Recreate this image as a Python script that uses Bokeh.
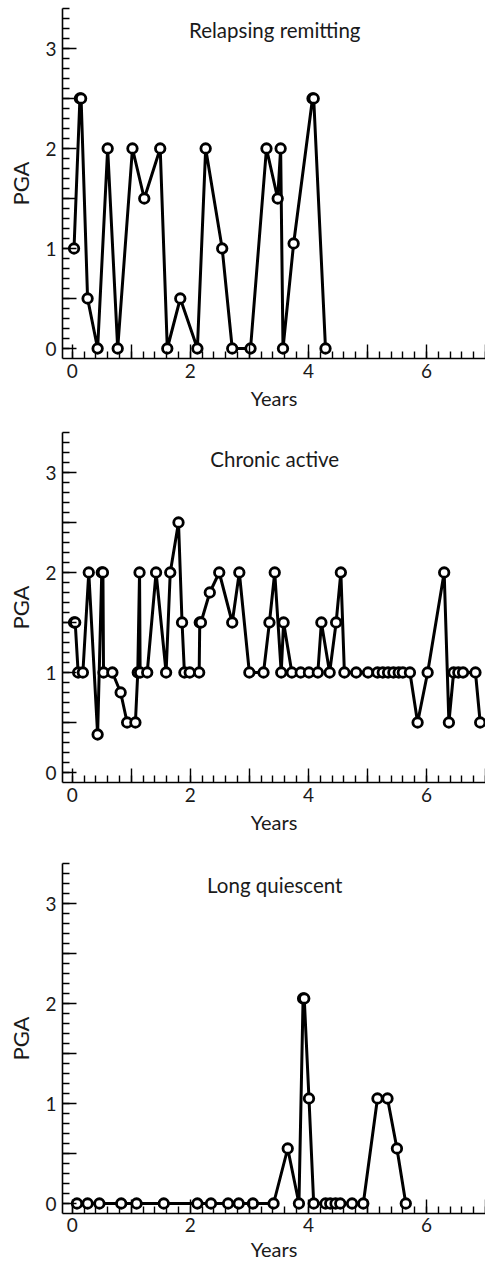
from bokeh.plotting import figure
from bokeh.layouts import column
from bokeh.models import FixedTicker, CustomJSTickFormatter, Range1d
from bokeh.core.properties import value
from bokeh.embed import file_html
from bokeh.resources import INLINE

FONT = "Lato"

# ---- data (years since onset, PGA score) ----
rr_title = "Relapsing remitting"
rr_years = [0.03, 0.13, 0.15, 0.26, 0.43, 0.60, 0.77, 1.02, 1.22, 1.49, 1.61, 1.83,
            2.12, 2.26, 2.54, 2.71, 3.02, 3.29, 3.48, 3.53, 3.57, 3.75, 4.07, 4.09, 4.29]
rr_pga = [1.0, 2.5, 2.5, 0.5, 0.0, 2.0, 0.0, 2.0, 1.5, 2.0, 0.0, 0.5,
          0.0, 2.0, 1.0, 0.0, 0.0, 2.0, 1.5, 2.0, 0.0, 1.05, 2.5, 2.5, 0.0]

ca_title = "Chronic active"
ca_years = [0.03, 0.05, 0.10, 0.18, 0.28, 0.43, 0.50, 0.52, 0.53, 0.68, 0.82, 0.93,
            1.07, 1.11, 1.14, 1.15, 1.27, 1.42, 1.59, 1.66, 1.80, 1.86, 1.90, 1.99,
            2.15, 2.16, 2.18, 2.33, 2.49, 2.71, 2.83, 3.00, 3.24, 3.34, 3.43, 3.54,
            3.58, 3.72, 3.87, 4.01, 4.16, 4.22, 4.36, 4.47, 4.55, 4.61, 4.81, 5.01,
            5.17, 5.26, 5.35, 5.44, 5.53, 5.60, 5.72, 5.85, 6.02, 6.30, 6.38, 6.46,
            6.54, 6.62, 6.83, 6.91]
ca_pga = [1.5, 1.5, 1.0, 1.0, 2.0, 0.38, 2.0, 2.0, 1.0, 1.0, 0.8, 0.5,
          0.5, 1.0, 2.0, 1.0, 1.0, 2.0, 1.0, 2.0, 2.5, 1.5, 1.0, 1.0,
          1.0, 1.5, 1.5, 1.8, 2.0, 1.5, 2.0, 1.0, 1.0, 1.5, 2.0, 1.0,
          1.5, 1.0, 1.0, 1.0, 1.0, 1.5, 1.0, 1.5, 2.0, 1.0, 1.0, 1.0,
          1.0, 1.0, 1.0, 1.0, 1.0, 1.0, 1.0, 0.5, 1.0, 2.0, 0.5, 1.0,
          1.0, 1.0, 1.0, 0.5]

lq_title = "Long quiescent"
lq_years = [0.08, 0.26, 0.46, 0.83, 1.09, 1.55, 2.12, 2.35, 2.64, 2.82, 3.06, 3.41,
            3.65, 3.84, 3.91, 3.93, 4.01, 4.09, 4.29, 4.37, 4.46, 4.54, 4.74, 4.93,
            5.17, 5.34, 5.50, 5.65]
lq_pga = [0.0, 0.0, 0.0, 0.0, 0.0, 0.0, 0.0, 0.0, 0.0, 0.0, 0.0, 0.0,
          0.55, 0.0, 2.05, 2.05, 1.05, 0.0, 0.0, 0.0, 0.0, 0.0, 0.0, 0.0,
          1.05, 1.05, 0.55, 0.0]

x_major = [0, 1, 2, 3, 4, 5, 6, 7]
x_minor = [i / 5 for i in range(0, 36)]
y_major = [0, 0.5, 1, 1.5, 2, 2.5, 3]
y_minor = [i / 10 for i in range(0, 35)]

X_RANGE = (-0.165, 7.0)
Y_RANGE = (-0.1, 3.4)


def make_panel(title, xs, ys, height, top, bottom, title_y, lab_standoff, axlab_standoff):
    p = figure(width=485, height=height, output_backend="svg", toolbar_location=None,
               x_range=Range1d(*X_RANGE), y_range=Range1d(*Y_RANGE),
               min_border_left=62, min_border_right=0,
               min_border_top=top, min_border_bottom=bottom)
    p.outline_line_color = None
    p.grid.visible = False
    p.background_fill_color = "white"
    p.border_fill_color = "white"

    p.line(xs, ys, line_color="black", line_width=3)
    p.scatter(xs, ys, size=9.5, fill_color="white", line_color="black", line_width=2.8)

    p.text(x=[3.43], y=[title_y], text=[title], text_align="center",
           text_baseline="alphabetic", text_font=value(FONT),
           text_font_size="20.5px", text_color="#1a1a1a")

    for ax in (p.xaxis[0], p.yaxis[0]):
        ax.axis_line_color = "black"
        ax.axis_line_width = 1.6
        ax.major_tick_line_color = "black"
        ax.major_tick_line_width = 1.4
        ax.minor_tick_line_color = "black"
        ax.minor_tick_line_width = 1.4
        ax.major_tick_in = 14
        ax.major_tick_out = 0
        ax.minor_tick_in = 7
        ax.minor_tick_out = 0
        ax.major_label_text_font = FONT
        ax.major_label_text_font_size = "19px"
        ax.major_label_text_color = "#1a1a1a"
        ax.axis_label_text_font = FONT
        ax.axis_label_text_font_size = "20px"
        ax.axis_label_text_font_style = "normal"
        ax.axis_label_text_color = "#1a1a1a"

    p.xaxis.ticker = FixedTicker(ticks=x_major, minor_ticks=x_minor)
    p.xaxis.formatter = CustomJSTickFormatter(
        code="return (Math.round(tick) % 2 === 0) ? tick.toFixed(0) : '';")
    p.xaxis.axis_label = "Years"
    p.xaxis.major_label_standoff = lab_standoff
    p.xaxis.axis_label_standoff = axlab_standoff

    p.yaxis.ticker = FixedTicker(ticks=y_major, minor_ticks=y_minor)
    p.yaxis.formatter = CustomJSTickFormatter(
        code="return (Math.abs(tick - Math.round(tick)) < 1e-6) ? tick.toFixed(0) : '';")
    p.yaxis.axis_label = "PGA"
    p.yaxis.axis_label_text_font_size = "22px"
    p.yaxis.major_label_standoff = 6
    p.yaxis.axis_label_standoff = 8
    return p


p1 = make_panel(rr_title, rr_years, rr_pga, 420, 8, 62, 3.19, 5, 5)
p2 = make_panel(ca_title, ca_years, ca_pga, 424, 12, 62, 3.14, 5, 5)
p3 = make_panel(lq_title, lq_years, lq_pga, 422, 19, 53, 3.19, 4, 2)

layout = column(p1, p2, p3, spacing=0)
open("out.html", "w").write(file_html(layout, INLINE))
